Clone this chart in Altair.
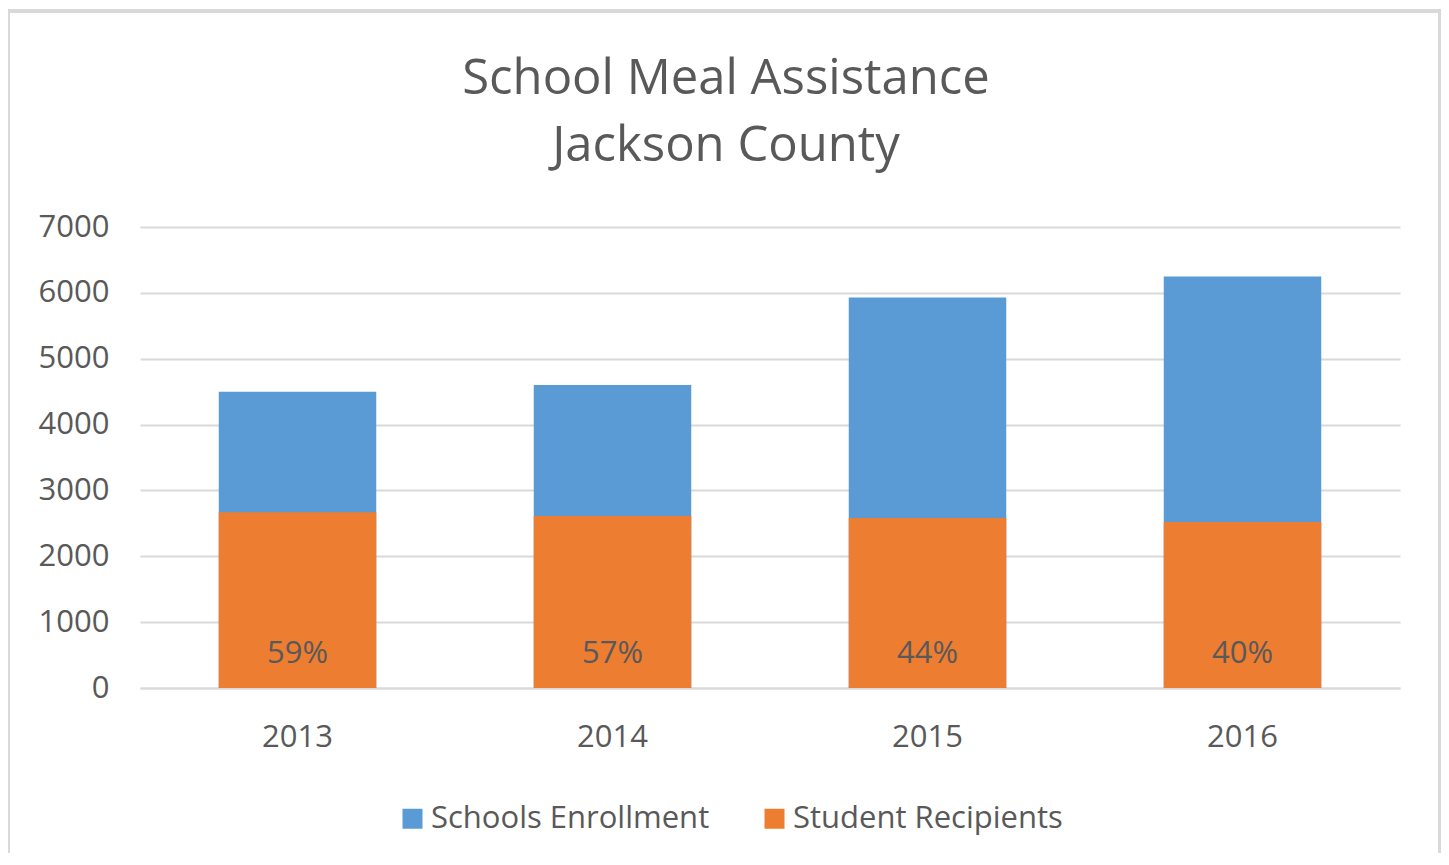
import altair as alt
import pandas as pd

years = ["2013", "2014", "2015", "2016"]
enrollment = [4500, 4600, 5930, 6250]
recipients = [2670, 2610, 2580, 2520]
pct_labels = ["59%", "57%", "44%", "40%"]
series_names = ["Schools Enrollment", "Student Recipients"]
colors = ["#5B9BD5", "#ED7D31"]

rows = []
for y, v in zip(years, enrollment):
    rows.append({"year": y, "series": series_names[0], "value": v, "ord": 0})
for y, v in zip(years, recipients):
    rows.append({"year": y, "series": series_names[1], "value": v, "ord": 1})
df = pd.DataFrame(rows)
lab = pd.DataFrame({"year": years, "label": pct_labels})

FONT = "Open Sans"
TXT = "#595959"
GRID = "#d9d9d9"

xscale = alt.Scale(domain=years, paddingInner=0.5, paddingOuter=0.25)
yscale = alt.Scale(domain=[0, 7000], nice=False)

bars = alt.Chart(df).mark_bar().encode(
    x=alt.X("year:N", scale=xscale, sort=years,
            axis=alt.Axis(title=None, labelAngle=0, ticks=False, labelPadding=34,
                          labelFontSize=31, labelColor=TXT, labelFont=FONT,
                          domainColor=GRID, domainWidth=2)),
    y=alt.Y("value:Q", scale=yscale, stack=None,
            axis=alt.Axis(title=None, values=list(range(0, 7001, 1000)), ticks=False,
                          format="d", domain=False, labelPadding=31, labelFontSize=31,
                          labelColor=TXT, labelFont=FONT, gridColor=GRID, gridWidth=2)),
    color=alt.Color("series:N", scale=alt.Scale(domain=series_names, range=colors),
                    legend=alt.Legend(title=None, orient="none", direction="horizontal",
                                      legendX=257, legendY=576, symbolType="square",
                                      symbolSize=400, symbolStrokeWidth=0,
                                      labelFontSize=31, labelFont=FONT, labelColor=TXT,
                                      labelOffset=3, columnPadding=49, labelLimit=500)),
    order=alt.Order("ord:Q"),
)

texts = alt.Chart(lab).mark_text(baseline="alphabetic", dy=-25, fontSize=31,
                                 font=FONT, color=TXT).encode(
    x=alt.X("year:N", scale=xscale, sort=years),
    y=alt.datum(0),
    text="label:N",
)

border = alt.Chart(pd.DataFrame({"a": [0]})).mark_rect(
    fill=None, stroke=GRID, strokeWidth=4
).encode(
    x=alt.value(-132), x2=alt.value(1300), y=alt.value(-216), y2=alt.value(643)
)

chart = alt.layer(border, bars, texts).properties(
    width=1260, height=461,
    title=alt.TitleParams(text=["School Meal Assistance", "Jackson County"],
                          fontSize=49, font=FONT, color=TXT, fontWeight="normal",
                          anchor="middle", frame="group", dx=-44, offset=0, dy=162,
                          lineHeight=67),
    padding={"left": 132, "top": 219, "right": 41, "bottom": 165},
    autosize=alt.AutoSizeParams(type="none"),
).configure(
    background="white",
    view=alt.ViewConfig(stroke="transparent", strokeWidth=0),
)

chart.save("out.html", embed_options={"renderer": "svg", "actions": False})
